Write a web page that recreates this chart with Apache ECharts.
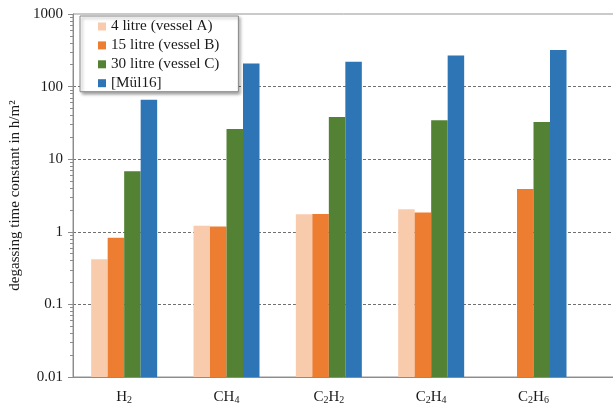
<!DOCTYPE html>
<html>
<head>
<meta charset="utf-8">
<style>
  html, body { margin: 0; padding: 0; background: #fff; }
  #chart { width: 613px; height: 409px; }
</style>
<script src="https://cdn.jsdelivr.net/npm/echarts@6/dist/echarts.min.js"></script>
</head>
<body>
<div id="chart"></div>
<script>
// Gas species on the x axis
const categories = ['H2', 'CH4', 'C2H2', 'C2H4', 'C2H6'];
const seriesNames = ['4 litre (vessel A)', '15 litre (vessel B)', '30 litre (vessel C)', '[Mül16]'];
const seriesColors = ['#F8CBAD', '#ED7D31', '#548235', '#2E75B6'];

// Degassing time constants in h/m² (log scale)
const vesselA = [0.42, 1.21, 1.75, 2.05, null];
const vesselB = [0.83, 1.18, 1.76, 1.85, 3.9];
const vesselC = [6.8, 26, 38, 34.5, 32.5];
const mul16 = [66, 208, 220, 268, 320];
const seriesValues = [vesselA, vesselB, vesselC, mul16];

// Axis range and decade ticks
const yMin = 0.01;
const yMax = 1000;
const yTickLabels = ['0.01', '0.1', '1', '10', '100', '1000'];

// Minor ticks at 2..9 within each decade
const minorTicks = [];
for (let e = -2; e < 3; e++) {
  for (let k = 2; k <= 9; k++) {
    minorTicks.push(+(k * Math.pow(10, e)).toPrecision(3));
  }
}

const FONT = 'Liberation Serif';
const TEXT = '#1a1a1a';
const AXIS = '#8c8c8c';
const CATEGORY_GAP = 0.355;   // share of each category band left empty

function chemLabel(name) {
  // digits rendered as subscripts
  return name.replace(/(\d)/g, '{s|$1}').replace(/([A-Z]+)/g, '{n|$1}');
}

// Bars rise from the bottom of the log axis (yMin), side by side in each band
function barRenderer(seriesIdx, seriesCount) {
  return function (params, api) {
    const cat = api.value(0);
    const v = api.value(1);
    if (v == null || isNaN(v)) return null;
    const band = api.size([1, 1])[0];
    const groupW = band * (1 - CATEGORY_GAP);
    const w = groupW / seriesCount;
    const base = api.coord([cat, yMin]);
    const top = api.coord([cat, v]);
    const x = base[0] - groupW / 2 + seriesIdx * w;
    return {
      type: 'rect',
      shape: { x: x, y: top[1], width: w, height: base[1] - top[1] },
      style: api.style()
    };
  };
}

const chart = echarts.init(document.getElementById('chart'), null, { renderer: 'canvas' });

chart.setOption({
  animation: false,
  backgroundColor: '#fff',
  grid: {
    left: 73,
    top: 14,
    bottom: 32,
    width: 614,
    outerBoundsMode: 'none',
    show: true,
    borderColor: '#959595',
    borderWidth: 1,
    containLabel: false
  },
  legend: {
    orient: 'vertical',
    left: 80,
    top: 16,
    padding: [3, 19, 1, 18],
    itemWidth: 8,
    itemHeight: 8,
    itemGap: 3.9,
    icon: 'rect',
    backgroundColor: '#fff',
    borderColor: '#8a8a8a',
    borderWidth: 1,
    borderRadius: 0,
    shadowColor: 'rgba(0,0,0,0.35)',
    shadowBlur: 3,
    shadowOffsetX: 2,
    shadowOffsetY: 2,
    textStyle: { fontFamily: FONT, fontSize: 15.2, color: TEXT, lineHeight: 15 },
    data: seriesNames
  },
  xAxis: {
    type: 'category',
    data: categories,
    max: 5,
    axisLine: { show: true, lineStyle: { color: AXIS, width: 1 } },
    axisTick: { show: false },
    splitLine: { show: false },
    axisLabel: {
      margin: 13,
      interval: 0,
      formatter: chemLabel,
      rich: {
        n: { fontFamily: FONT, fontSize: 15, color: TEXT, lineHeight: 15, verticalAlign: 'bottom' },
        s: { fontFamily: FONT, fontSize: 10, color: TEXT, lineHeight: 6, verticalAlign: 'bottom' }
      }
    }
  },
  yAxis: [
    {
      type: 'log',
      logBase: 10,
      min: yMin,
      max: yMax,
      name: 'degassing time constant in h/m²',
      nameLocation: 'middle',
      nameGap: 47,
      nameTextStyle: { fontFamily: FONT, fontSize: 15, color: TEXT },
      axisLine: { show: true, lineStyle: { color: AXIS, width: 1 } },
      axisTick: { show: true, inside: false, length: 5, lineStyle: { color: AXIS } },
      axisLabel: {
        fontFamily: FONT, fontSize: 15, color: TEXT, margin: 10,
        formatter: function (v) {
          const i = Math.round(Math.log10(v)) + 2;
          return yTickLabels[i] !== undefined ? yTickLabels[i] : String(v);
        }
      },
      splitLine: {
        show: true,
        showMinLine: false,
        showMaxLine: false,
        lineStyle: { color: '#707070', width: 1, type: [3, 2] }
      }
    },
    {
      type: 'log',
      logBase: 10,
      min: yMin,
      max: yMax,
      position: 'left',
      axisLine: { show: false },
      axisLabel: { show: false },
      splitLine: { show: false },
      axisTick: { show: true, length: 3, customValues: minorTicks, lineStyle: { color: AXIS } }
    }
  ],
  series: seriesNames.map(function (name, i) {
    return {
      name: name,
      type: 'custom',
      yAxisIndex: 0,
      renderItem: barRenderer(i, seriesNames.length),
      encode: { x: 0, y: 1 },
      data: seriesValues[i].map(function (v, j) { return [j, v]; }),
      itemStyle: { color: seriesColors[i] }
    };
  })
});
</script>
</body>
</html>
